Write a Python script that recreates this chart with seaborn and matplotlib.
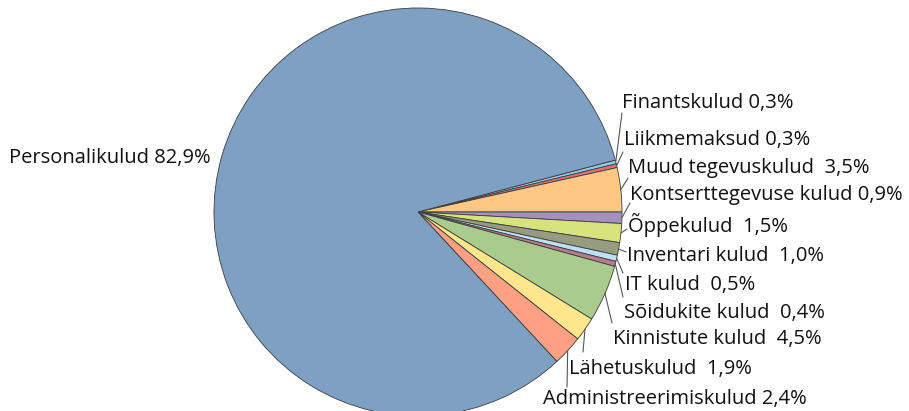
import numpy as np
import seaborn as sns
import matplotlib.pyplot as plt

# expense categories, clockwise from the top-right small slices
categories = ['Finantskulud', 'Liikmemaksud', 'Muud tegevuskulud', 'Kontserttegevuse kulud',
              'Õppekulud', 'Inventari kulud', 'IT kulud', 'Sõidukite kulud',
              'Kinnistute kulud', 'Lähetuskulud', 'Administreerimiskulud', 'Personalikulud']
shares = [0.3, 0.3, 3.5, 0.9, 1.5, 1.0, 0.5, 0.4, 4.5, 1.9, 2.4, 82.9]
labels = ['Finantskulud 0,3%', 'Liikmemaksud 0,3%', 'Muud tegevuskulud  3,5%',
          'Kontserttegevuse kulud 0,9%', 'Õppekulud  1,5%', 'Inventari kulud  1,0%',
          'IT kulud  0,5%', 'Sõidukite kulud  0,4%', 'Kinnistute kulud  4,5%',
          'Lähetuskulud  1,9%', 'Administreerimiskulud 2,4%', 'Personalikulud 82,9%']

colors = ['#8ccbea', '#e0707a', '#fec784', '#a392bf', '#d6e37f', '#979c80',
          '#bde0f4', '#b87c8c', '#a9cb8b', '#fde68b', '#fda083', '#7ea1c3']

# label layout in pixels: text anchor (x, y) and leader end (x, y); None = no leader
label_layout = [
    (622, 103, 622, 113), (624, 140, 623, 152), (628, 168, 628, 178),
    (630, 195, 630, 203), (628, 225, 627, 229), (627, 256, 626, 252),
    (625, 285, 623, 273), (624, 313, 623, 297), (613, 339, 612, 323),
    (569, 369, 583, 352), (543, 399, 567, 387), (211, 158, None, None),
]

sns.set_theme(style='white')
plt.rcParams['font.family'] = ['Open Sans', 'DejaVu Sans']

W, H = 909, 411
cx, cy, R = 418, 212, 204
fs = 14.5

fig = plt.figure(figsize=(W / 100, H / 100), dpi=100)
ax = fig.add_axes([0, 0, 1, 1])

total = sum(shares)
startangle = sum(shares[0:3]) / total * 360

ax.pie(shares, colors=colors, startangle=startangle, counterclock=False,
       wedgeprops=dict(edgecolor='#3c3c3c', linewidth=0.6))


def px(x, y):
    return (x - cx) / R, (cy - y) / R


cum = 0.0
for lab, val, (tx, ty, ex, ey) in zip(labels, shares, label_layout):
    mid = startangle - (cum + val / 2) / total * 360
    cum += val
    x, y = px(tx, ty)
    if ex is None:
        ax.text(x, y, lab, ha='right', va='center', fontsize=fs, color='#111111')
        continue
    sx, sy = np.cos(np.radians(mid)), np.sin(np.radians(mid))
    exx, eyy = px(ex, ey)
    ax.plot([sx, exx], [sy, eyy], color='#555555', lw=0.8)
    ax.text(x, y, lab, ha='left', va='center', fontsize=fs, color='#111111')

ax.set_xlim(-cx / R, (W - cx) / R)
ax.set_ylim(-(H - cy) / R, cy / R)
ax.set_aspect('auto')
ax.axis('off')

plt.savefig('out.png', dpi=100)
plt.close()
